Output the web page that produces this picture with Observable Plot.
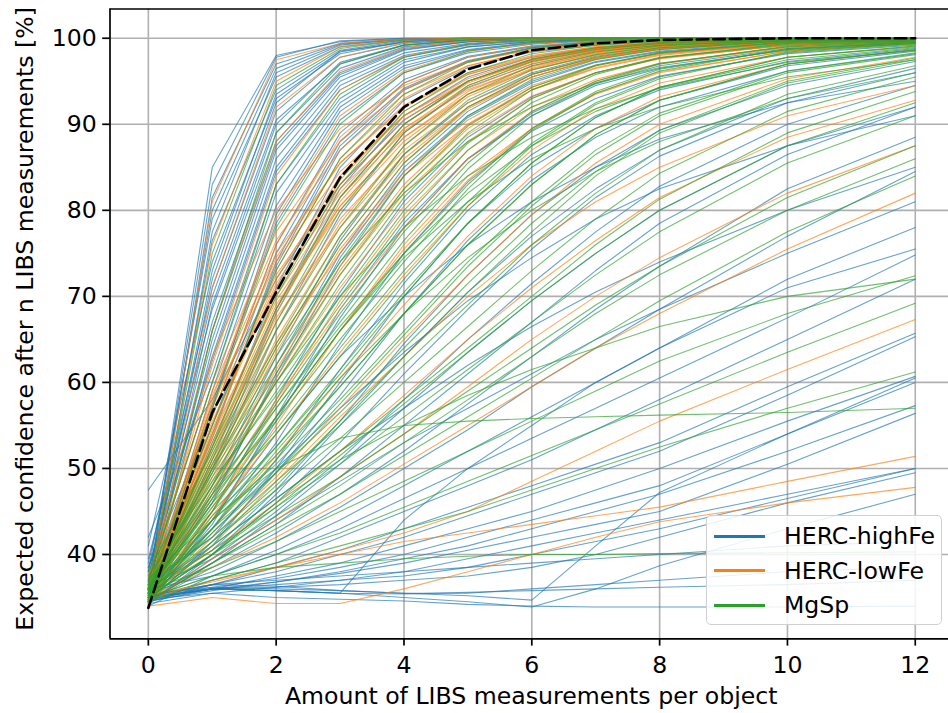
<!DOCTYPE html>
<html>
<head>
<meta charset="utf-8">
<script src="https://cdn.jsdelivr.net/npm/d3@7"></script>
<script src="https://cdn.jsdelivr.net/npm/@observablehq/plot@0.6"></script>
<style>
  html, body { margin: 0; padding: 0; background: #fff; overflow: hidden; }
  #wrap { position: relative; width: 948px; height: 713px; font-family: "DejaVu Sans", sans-serif; }
  #legend { position: absolute; left: 706px; top: 515px; width: 236px; height: 110px; box-sizing: border-box;
            border: 1px solid #d0d0d0; border-radius: 5px; background: rgba(255,255,255,0.85); }
  .row { position: absolute; left: 0; height: 30px; display: flex; align-items: center; }
  .sw { width: 51px; height: 3px; margin-left: 7px; margin-right: 19px; }
  .lab { font-size: 23.6px; color: #000; white-space: nowrap; }
</style>
</head>
<body>
<div id="wrap"></div>
<script>
// measurement counts (x positions of the curve vertices)
const xs = [0, 1, 2, 3, 4, 5, 6, 7, 8, 10, 12];
const classNames = ["HERC-highFe", "HERC-lowFe", "MgSp"];
const classColors = ["#1f77b4", "#ff7f0e", "#2ca02c"];
const xTicks = [0, 2, 4, 6, 8, 10, 12];
const yTicks = [40, 50, 60, 70, 80, 90, 100];

// HERC-highFe curves (values at xs)
const highFe = [
  [36.0, 85.0, 98.0, 99.6, 100, 100, 100, 100, 100, 100, 100],
  [35.0, 81.5, 97.0, 99.4, 99.9, 100, 100, 100, 100, 100, 100],
  [38.0, 79.0, 95.5, 99.0, 99.8, 100, 100, 100, 100, 100, 100],
  [36.5, 76.5, 94.0, 98.6, 99.7, 99.9, 100, 100, 100, 100, 100],
  [41.0, 74.0, 93.0, 98.2, 99.6, 99.9, 100, 100, 100, 100, 100],
  [35.5, 72.0, 92.5, 98.5, 99.5, 99.8, 100, 100, 100, 100, 100],
  [37.0, 70.0, 90.5, 97.0, 99.2, 99.8, 99.9, 100, 100, 100, 100],
  [39.5, 68.5, 89.0, 96.5, 99.0, 99.7, 99.9, 100, 100, 100, 100],
  [36.0, 66.0, 87.5, 95.8, 98.7, 99.6, 99.9, 100, 100, 100, 100],
  [34.5, 64.0, 86.0, 95.0, 98.3, 99.4, 99.8, 99.9, 100, 100, 100],
  [37.5, 62.5, 84.5, 94.0, 97.8, 99.2, 99.7, 99.9, 100, 100, 100],
  [42.0, 61.0, 83.0, 93.0, 97.5, 99.0, 99.6, 99.8, 99.9, 100, 100],
  [35.0, 59.0, 80.5, 92.0, 96.8, 98.7, 99.5, 99.8, 99.9, 100, 100],
  [36.5, 57.5, 78.5, 90.5, 96.0, 98.3, 99.3, 99.7, 99.9, 100, 100],
  [38.5, 56.0, 76.0, 89.0, 95.2, 97.9, 99.1, 99.6, 99.8, 100, 100],
  [35.5, 54.0, 73.5, 87.0, 94.0, 97.3, 98.8, 99.5, 99.8, 99.9, 100],
  [36.0, 52.5, 71.0, 85.0, 92.8, 96.6, 98.4, 99.2, 99.6, 99.9, 100],
  [34.8, 51.0, 68.5, 82.5, 91.0, 95.5, 97.8, 98.9, 99.5, 99.9, 100],
  [37.0, 49.5, 66.0, 79.5, 89.0, 94.3, 97.0, 98.5, 99.2, 99.8, 99.9],
  [35.2, 48.0, 63.0, 76.5, 86.5, 92.5, 96.0, 97.9, 98.9, 99.7, 99.9],
  [36.3, 46.5, 60.5, 73.5, 84.0, 90.8, 94.8, 97.2, 98.4, 99.5, 99.8],
  [34.6, 45.0, 58.0, 70.5, 81.0, 88.5, 93.2, 96.0, 97.7, 99.2, 99.7],
  [35.8, 44.0, 55.5, 67.5, 78.0, 86.0, 91.3, 94.7, 96.8, 98.8, 99.5],
  [35.0, 43.0, 53.0, 64.5, 75.0, 83.3, 89.2, 93.0, 95.6, 98.2, 99.2],
  [36.8, 42.0, 51.0, 61.5, 71.5, 80.0, 86.5, 91.0, 94.0, 97.3, 98.8],
  [34.4, 41.5, 49.5, 58.5, 68.0, 76.5, 83.5, 88.5, 92.0, 96.2, 98.2],
  [35.6, 40.5, 47.5, 55.5, 64.5, 72.5, 79.5, 85.0, 89.3, 94.5, 97.3],
  [34.2, 40.0, 46.0, 53.0, 61.0, 68.5, 75.5, 81.5, 86.3, 92.5, 96.0],
  [36.0, 39.5, 45.0, 51.0, 58.0, 65.0, 71.5, 77.5, 82.8, 90.0, 94.5],
  [35.0, 39.0, 43.5, 49.0, 55.0, 61.0, 67.0, 73.0, 78.5, 86.5, 92.0],
  [34.5, 38.5, 42.5, 47.0, 52.0, 57.5, 63.0, 68.5, 73.5, 82.5, 88.5],
  [35.5, 38.0, 41.5, 45.5, 50.0, 54.5, 59.5, 64.0, 68.5, 77.0, 84.5],
  [34.0, 37.5, 40.5, 44.0, 48.0, 52.0, 56.0, 60.0, 64.0, 71.0, 75.5],
  [36.0, 37.5, 40.0, 43.0, 46.5, 50.0, 53.5, 57.0, 60.5, 67.5, 74.8],
  [35.0, 37.0, 39.0, 42.0, 45.0, 48.0, 51.0, 54.5, 58.0, 65.0, 72.0],
  [34.5, 36.5, 38.5, 40.5, 43.0, 45.5, 48.0, 50.5, 53.0, 59.5, 65.7],
  [35.2, 36.5, 38.0, 40.0, 42.0, 44.5, 47.0, 49.5, 52.0, 58.5, 65.3],
  [34.8, 36.0, 37.5, 39.0, 41.0, 43.0, 45.0, 47.5, 50.0, 55.5, 60.7],
  [35.5, 36.2, 37.2, 38.5, 40.0, 42.0, 44.0, 46.0, 48.0, 54.0, 60.5],
  [34.6, 35.8, 36.8, 38.0, 39.5, 41.0, 43.0, 45.0, 47.0, 52.0, 57.3],
  [35.0, 36.0, 36.8, 37.8, 39.0, 40.5, 42.0, 43.5, 45.0, 50.5, 56.4],
  [34.3, 35.5, 36.2, 37.0, 38.0, 39.5, 41.0, 42.5, 44.0, 47.0, 50.0],
  [35.0, 36.0, 36.5, 37.0, 37.5, 38.5, 40.0, 41.5, 43.0, 46.5, 50.0],
  [34.5, 36.0, 36.2, 36.5, 37.0, 37.5, 38.5, 40.0, 42.0, 46.0, 49.5],
  [35.2, 36.5, 36.3, 35.8, 35.5, 35.5, 36.0, 36.5, 37.0, 38.0, 38.5],
  [34.8, 36.0, 35.8, 35.5, 35.4, 35.6, 35.8, 36.0, 36.2, 36.5, 37.0],
  [35.0, 36.2, 36.0, 35.8, 35.5, 35.2, 34.7, 41.0, 47.2, 54.0, 60.0],
  [35.5, 36.0, 35.8, 35.5, 35.0, 34.5, 33.9, 36.0, 38.7, 43.0, 47.0],
  [35.0, 36.0, 35.8, 35.5, 44.0, 50.0, 55.0, 60.0, 64.0, 72.0, 78.0],
  [35.0, 36.5, 37.0, 37.5, 38.0, 38.5, 39.0, 39.5, 40.0, 41.0, 41.5],
  [34.8, 35.5, 35.0, 34.8, 34.6, 34.2, 34.0, 33.9, 33.9, 33.9, 34.0],
  [37.0, 60.0, 82.0, 92.5, 97.2, 99.0, 99.6, 99.9, 100, 100, 100],
  [38.0, 67.0, 88.0, 96.0, 98.8, 99.6, 99.9, 100, 100, 100, 100],
  [36.0, 55.0, 75.0, 88.0, 94.8, 97.8, 99.0, 99.6, 99.8, 100, 100],
  [35.0, 47.0, 62.0, 75.0, 85.0, 91.5, 95.5, 97.6, 98.8, 99.6, 99.9],
  [47.5, 58.0, 72.0, 83.0, 90.5, 95.0, 97.5, 98.8, 99.4, 99.8, 100],
  [34.0, 44.0, 54.0, 63.0, 70.0, 76.0, 81.0, 85.0, 88.3, 92.5, 95.0],
  [35.5, 42.5, 50.0, 57.0, 63.5, 69.5, 74.5, 79.0, 82.5, 87.5, 91.0],
  [36.0, 41.0, 46.5, 52.0, 57.0, 62.0, 66.5, 70.5, 74.0, 80.0, 85.0],
  [34.5, 39.5, 44.0, 48.5, 53.0, 57.0, 61.0, 65.0, 68.5, 75.0, 81.0],
  [36.0, 83.0, 97.8, 99.7, 100, 100, 100, 100, 100, 100, 100],
  [37.0, 80.0, 96.5, 99.3, 99.9, 100, 100, 100, 100, 100, 100],
  [35.0, 77.5, 96.0, 99.2, 99.9, 100, 100, 100, 100, 100, 100],
  [36.0, 73.0, 93.5, 98.4, 99.6, 99.9, 100, 100, 100, 100, 100],
  [39.0, 71.0, 91.5, 97.8, 99.4, 99.9, 100, 100, 100, 100, 100],
  [35.5, 69.0, 90.0, 97.2, 99.2, 99.8, 100, 100, 100, 100, 100],
  [36.5, 65.0, 87.0, 95.5, 98.6, 99.6, 99.9, 100, 100, 100, 100],
  [38.5, 63.0, 85.0, 94.5, 98.0, 99.3, 99.8, 99.9, 100, 100, 100],
  [35.0, 57.0, 79.5, 91.5, 96.5, 98.6, 99.4, 99.8, 99.9, 100, 100],
  [36.5, 53.5, 74.0, 87.5, 94.2, 97.4, 98.9, 99.5, 99.8, 100, 100],
  [34.8, 50.0, 68.0, 81.5, 90.0, 95.0, 97.5, 98.8, 99.4, 99.9, 100],
  [35.8, 46.0, 61.0, 74.5, 84.5, 91.0, 95.0, 97.3, 98.5, 99.6, 99.9],
  [34.7, 43.5, 56.0, 68.5, 78.5, 86.0, 91.0, 94.5, 96.5, 98.7, 99.5],
  [35.3, 41.0, 50.0, 60.0, 70.0, 78.5, 85.0, 89.5, 92.8, 96.8, 98.5],
  [35.0, 40.0, 47.0, 55.0, 63.0, 70.5, 77.0, 82.5, 87.0, 93.0, 96.5],
  [34.6, 39.0, 44.5, 50.5, 57.0, 63.5, 69.5, 75.0, 80.0, 87.5, 92.0]
];

// HERC-lowFe curves
const lowFe = [
  [35.0, 81.0, 97.5, 99.4, 99.9, 100, 100, 100, 100, 100, 100],
  [36.0, 76.0, 95.0, 99.0, 99.8, 100, 100, 100, 100, 100, 100],
  [34.5, 71.0, 92.0, 97.8, 99.5, 99.9, 100, 100, 100, 100, 100],
  [37.0, 66.0, 88.0, 96.2, 98.9, 99.7, 99.9, 100, 100, 100, 100],
  [35.5, 62.0, 84.0, 94.0, 97.9, 99.3, 99.8, 99.9, 100, 100, 100],
  [34.0, 58.0, 79.0, 91.0, 96.2, 98.5, 99.4, 99.8, 99.9, 100, 100],
  [36.5, 56.0, 76.0, 88.5, 94.8, 97.8, 99.1, 99.6, 99.8, 100, 100],
  [35.0, 54.0, 73.0, 86.0, 93.0, 96.8, 98.5, 99.3, 99.7, 99.9, 100],
  [34.8, 52.5, 70.5, 83.5, 91.5, 95.8, 97.9, 99.0, 99.5, 99.9, 100],
  [35.8, 51.5, 68.0, 81.0, 89.5, 94.5, 97.2, 98.6, 99.3, 99.8, 100],
  [34.3, 50.5, 66.0, 78.5, 87.5, 93.2, 96.4, 98.1, 99.0, 99.7, 99.9],
  [36.2, 49.5, 64.0, 76.0, 85.5, 91.8, 95.5, 97.6, 98.7, 99.6, 99.9],
  [35.0, 48.5, 62.0, 73.5, 83.0, 90.0, 94.3, 96.8, 98.2, 99.4, 99.8],
  [34.6, 47.5, 60.0, 71.0, 80.5, 88.0, 93.0, 96.0, 97.7, 99.2, 99.7],
  [35.4, 46.5, 58.0, 68.5, 78.0, 86.0, 91.5, 95.0, 97.0, 98.9, 99.6],
  [34.2, 45.5, 56.0, 66.0, 75.5, 83.5, 89.5, 93.6, 96.1, 98.5, 99.4],
  [36.0, 44.5, 54.0, 63.5, 72.5, 80.5, 87.0, 91.8, 94.8, 97.8, 99.1],
  [35.2, 43.0, 51.5, 60.5, 69.0, 77.0, 84.0, 89.5, 93.2, 97.0, 98.7],
  [34.8, 42.0, 49.0, 57.0, 65.0, 72.5, 79.5, 85.5, 90.0, 95.3, 97.8],
  [35.6, 40.5, 46.0, 52.0, 58.5, 65.0, 71.0, 76.5, 81.5, 88.5, 92.8],
  [34.4, 39.5, 44.0, 49.0, 54.0, 59.5, 65.0, 70.0, 74.5, 82.0, 87.5],
  [35.0, 38.5, 42.0, 46.0, 50.5, 55.0, 59.5, 64.0, 68.0, 75.5, 82.0],
  [34.8, 37.0, 38.5, 40.5, 42.5, 45.0, 48.5, 52.0, 55.5, 61.5, 67.3],
  [35.2, 36.8, 38.5, 40.0, 41.5, 42.5, 43.5, 44.5, 45.5, 48.5, 51.4],
  [34.0, 35.0, 34.3, 34.3, 36.0, 38.0, 40.0, 42.0, 43.8, 46.0, 47.8],
  [37.5, 60.0, 77.5, 88.0, 94.0, 97.2, 98.7, 99.4, 99.8, 100, 100],
  [36.0, 53.0, 69.0, 80.0, 88.0, 93.5, 96.5, 98.3, 99.1, 99.8, 100],
  [35.0, 50.0, 65.0, 77.0, 86.0, 92.0, 95.8, 97.8, 98.9, 99.7, 99.9],
  [34.5, 55.0, 72.0, 84.0, 91.0, 95.3, 97.6, 98.8, 99.4, 99.9, 100],
  [35.5, 57.0, 74.5, 85.5, 92.0, 95.8, 97.8, 98.9, 99.4, 99.8, 100],
  [35.0, 59.0, 76.5, 87.0, 93.5, 96.8, 98.5, 99.3, 99.7, 100, 100],
  [36.0, 57.5, 74.0, 84.5, 91.0, 95.0, 97.3, 98.6, 99.3, 99.8, 100],
  [34.5, 54.5, 71.5, 82.5, 89.5, 94.0, 96.7, 98.2, 99.0, 99.7, 99.9],
  [35.5, 52.0, 68.5, 80.5, 88.5, 93.5, 96.3, 98.0, 98.9, 99.7, 99.9],
  [34.8, 51.0, 67.0, 79.0, 87.0, 92.5, 95.8, 97.7, 98.7, 99.6, 99.9],
  [36.5, 49.0, 63.5, 75.5, 84.5, 90.5, 94.5, 96.9, 98.2, 99.4, 99.8],
  [35.2, 47.0, 60.5, 72.5, 82.0, 88.8, 93.3, 96.0, 97.6, 99.2, 99.7],
  [34.4, 45.0, 57.5, 69.5, 79.5, 87.0, 92.0, 95.2, 97.1, 99.0, 99.6],
  [35.6, 63.0, 80.0, 89.5, 94.5, 97.3, 98.7, 99.4, 99.8, 100, 100],
  [35.0, 44.0, 55.0, 66.0, 76.0, 84.0, 89.5, 93.5, 96.0, 98.5, 99.4],
  [34.6, 41.0, 48.5, 56.0, 63.0, 70.0, 76.0, 81.0, 85.0, 91.0, 94.5],
  [35.0, 55.5, 71.0, 82.0, 90.0, 94.8, 97.4, 98.7, 99.4, 99.9, 100],
  [36.0, 54.0, 69.5, 80.5, 88.5, 93.8, 96.8, 98.4, 99.2, 99.8, 100],
  [34.5, 56.5, 72.5, 83.0, 90.5, 95.0, 97.5, 98.8, 99.4, 99.9, 100],
  [35.5, 52.5, 67.5, 78.0, 86.5, 92.0, 95.5, 97.6, 98.8, 99.7, 99.9],
  [34.8, 53.5, 70.0, 81.5, 89.2, 94.2, 97.0, 98.5, 99.3, 99.8, 100],
  [36.2, 50.5, 64.5, 75.0, 84.0, 90.0, 94.0, 96.6, 98.1, 99.5, 99.9],
  [35.0, 48.0, 61.5, 73.0, 82.5, 89.5, 94.0, 96.5, 98.0, 99.4, 99.8],
  [34.6, 58.5, 75.0, 85.5, 92.2, 96.0, 98.0, 99.0, 99.5, 99.9, 100]
];

// MgSp curves
const mgsp = [
  [36.0, 75.0, 94.5, 98.8, 99.8, 100, 100, 100, 100, 100, 100],
  [35.0, 66.0, 89.0, 97.0, 99.2, 99.8, 100, 100, 100, 100, 100],
  [37.0, 60.0, 83.0, 93.5, 97.8, 99.3, 99.8, 99.9, 100, 100, 100],
  [35.5, 57.0, 78.0, 90.0, 96.0, 98.5, 99.5, 99.8, 100, 100, 100],
  [36.5, 55.0, 73.0, 86.0, 93.5, 97.2, 98.9, 99.6, 99.8, 100, 100],
  [35.0, 53.0, 70.0, 83.0, 91.5, 96.0, 98.2, 99.2, 99.7, 99.9, 100],
  [38.0, 52.0, 67.0, 80.0, 89.0, 94.5, 97.3, 98.7, 99.4, 99.9, 100],
  [35.8, 51.0, 64.5, 77.0, 86.5, 92.8, 96.3, 98.1, 99.1, 99.8, 100],
  [36.2, 50.0, 62.0, 74.0, 84.0, 91.0, 95.2, 97.5, 98.7, 99.7, 99.9],
  [34.8, 49.0, 60.0, 71.5, 81.5, 89.0, 94.0, 96.8, 98.3, 99.6, 99.9],
  [37.5, 48.5, 58.5, 69.0, 79.0, 87.0, 92.5, 95.8, 97.7, 99.4, 99.8],
  [35.3, 47.5, 57.0, 67.0, 76.5, 84.8, 91.0, 94.8, 97.0, 99.1, 99.7],
  [36.8, 47.0, 55.5, 65.0, 74.0, 82.5, 89.3, 93.6, 96.2, 98.8, 99.6],
  [35.0, 46.0, 54.0, 63.0, 72.0, 80.5, 87.5, 92.3, 95.3, 98.4, 99.4],
  [36.0, 45.0, 52.5, 61.0, 70.0, 78.5, 85.5, 90.8, 94.3, 97.8, 99.1],
  [34.5, 44.5, 51.5, 59.5, 68.0, 76.0, 83.0, 88.8, 92.8, 97.0, 98.7],
  [37.2, 44.0, 50.5, 58.0, 66.0, 74.0, 81.0, 87.0, 91.3, 96.2, 98.3],
  [35.6, 43.0, 49.5, 56.5, 64.0, 71.5, 78.5, 84.5, 89.3, 95.0, 97.7],
  [36.4, 42.0, 48.5, 55.0, 62.0, 69.0, 76.0, 82.0, 87.0, 93.5, 96.8],
  [35.2, 41.5, 47.5, 53.5, 60.0, 66.5, 73.0, 79.0, 84.3, 91.5, 95.5],
  [34.7, 41.0, 46.5, 52.0, 58.0, 64.0, 70.0, 76.0, 81.3, 89.0, 93.8],
  [36.0, 40.5, 45.5, 50.5, 56.0, 61.5, 67.0, 72.5, 77.5, 85.5, 91.0],
  [35.0, 40.0, 44.5, 49.0, 54.0, 59.0, 64.0, 69.0, 73.5, 81.5, 87.5],
  [34.5, 39.0, 43.0, 47.0, 51.5, 56.0, 60.5, 65.0, 69.5, 77.5, 84.0],
  [35.8, 38.5, 41.5, 45.0, 48.5, 52.0, 55.5, 59.0, 62.5, 68.0, 72.4],
  [35.0, 37.5, 40.0, 42.5, 45.5, 48.5, 51.5, 54.5, 57.5, 63.5, 69.2],
  [34.6, 37.0, 39.0, 41.0, 43.0, 45.0, 47.5, 50.0, 52.5, 57.0, 61.2],
  [35.0, 44.0, 50.0, 53.5, 55.0, 55.5, 55.8, 56.0, 56.2, 56.5, 57.0],
  [35.0, 37.5, 38.5, 39.0, 39.5, 39.8, 40.0, 40.0, 40.1, 40.2, 40.3],
  [35.5, 40.0, 46.0, 51.0, 55.0, 58.5, 61.5, 64.0, 66.5, 70.0, 72.0],
  [35.0, 45.0, 56.0, 66.0, 74.5, 81.0, 86.0, 89.5, 92.0, 95.5, 97.5],
  [36.0, 48.0, 60.0, 70.0, 78.0, 84.0, 88.5, 91.8, 94.2, 97.2, 98.6],
  [35.5, 50.0, 63.0, 74.0, 82.0, 88.0, 92.0, 94.8, 96.6, 98.6, 99.4],
  [34.5, 43.0, 52.0, 60.5, 68.0, 74.5, 80.0, 84.5, 88.0, 93.0, 96.0],
  [36.0, 46.0, 57.0, 66.5, 75.0, 82.0, 87.5, 91.5, 94.3, 97.5, 98.9],
  [35.5, 52.5, 68.5, 81.5, 90.0, 95.0, 97.6, 98.9, 99.5, 99.9, 100],
  [36.0, 50.5, 64.0, 76.0, 85.5, 92.0, 95.8, 97.8, 98.9, 99.7, 99.9],
  [35.0, 49.5, 61.0, 72.5, 82.5, 89.8, 94.3, 96.9, 98.3, 99.5, 99.8],
  [36.5, 48.0, 59.0, 70.0, 80.0, 87.8, 93.0, 96.0, 97.8, 99.3, 99.7],
  [35.2, 47.0, 57.5, 68.0, 77.5, 85.5, 91.5, 95.0, 97.1, 99.0, 99.6],
  [34.8, 46.5, 56.0, 66.0, 75.0, 83.0, 89.5, 93.8, 96.4, 98.7, 99.5],
  [36.2, 45.5, 54.5, 64.0, 73.0, 81.0, 87.8, 92.5, 95.5, 98.3, 99.3],
  [35.4, 44.0, 52.5, 61.5, 70.5, 78.5, 85.5, 90.8, 94.3, 97.8, 99.0],
  [36.0, 43.0, 51.0, 59.5, 68.0, 76.0, 83.0, 88.8, 92.8, 97.0, 98.6],
  [34.6, 42.5, 49.5, 57.5, 65.5, 73.5, 80.5, 86.5, 91.0, 96.0, 98.1],
  [35.8, 41.5, 48.0, 55.5, 63.0, 70.5, 77.5, 84.0, 89.0, 94.8, 97.5],
  [35.0, 40.0, 45.5, 51.5, 57.5, 63.5, 69.5, 75.0, 80.0, 87.5, 92.5],
  [36.0, 51.5, 66.0, 78.0, 87.5, 93.5, 96.8, 98.4, 99.2, 99.8, 100],
  [34.5, 39.0, 43.5, 48.0, 53.0, 58.0, 63.0, 68.0, 72.5, 80.0, 86.0]
];

// mean curve (black dashed)
const meanCurve = [33.8, 56.5, 70.5, 83.8, 92.0, 96.4, 98.6, 99.4, 99.8, 100, 100];

// ---- build tidy table ----
const rows = [];
[highFe, lowFe, mgsp].forEach((set, ci) => {
  set.forEach((vals, si) => {
    vals.forEach((v, k) => rows.push({id: ci + "-" + si, cls: classNames[ci], x: xs[k], y: v}));
  });
});
const meanRows = meanCurve.map((v, k) => ({x: xs[k], y: v}));

const X0 = -0.6, X1 = 12.52, Y0 = 30.2, Y1 = 103.4;
const FS = 23.6;

const chart = Plot.plot({
  width: 948,
  height: 713,
  marginLeft: 109.5,
  marginRight: 0,
  marginTop: 8.5,
  marginBottom: 74.7,
  style: {fontFamily: "DejaVu Sans, sans-serif", color: "#000", background: "#fff"},
  x: {domain: [X0, X1]},
  y: {domain: [Y0, Y1]},
  color: {domain: classNames, range: classColors},
  marks: [
    Plot.gridX(xTicks, {stroke: "#b0b0b0", strokeOpacity: 1, strokeWidth: 1.6}),
    Plot.gridY(yTicks, {stroke: "#b0b0b0", strokeOpacity: 1, strokeWidth: 1.6}),
    Plot.line(rows, {x: "x", y: "y", z: "id", stroke: "cls", strokeWidth: 1.1, strokeOpacity: 0.68}),
    Plot.line(meanRows, {x: "x", y: "y", stroke: "#000", strokeWidth: 2.6, strokeDasharray: "11.5,5"}),
    Plot.ruleX([X0], {stroke: "#000", strokeWidth: 1.7}),
    Plot.ruleY([Y0, Y1], {stroke: "#000", strokeWidth: 1.7}),
    Plot.axisX(xTicks, {tickSize: 7.3, tickPadding: 10, fontSize: FS, label: null, strokeWidth: 1.7}),
    Plot.axisY(yTicks, {tickSize: 7.3, tickPadding: 6, fontSize: FS, label: null, strokeWidth: 1.7}),
    Plot.text(["Amount of LIBS measurements per object"], {frameAnchor: "bottom", dx: 2, dy: 48, lineAnchor: "top", textAnchor: "middle", fontSize: FS, fill: "#000"}),
    Plot.text(["Expected confidence after n LIBS measurements [%]"], {frameAnchor: "left", dx: -85, dy: -5, rotate: -90, textAnchor: "middle", lineAnchor: "middle", fontSize: FS, fill: "#000"})
  ]
});

const wrap = document.getElementById("wrap");
wrap.appendChild(chart);

// legend (inside the axes, lower right)
const legend = document.createElement("div");
legend.id = "legend";
classNames.forEach((name, i) => {
  const row = document.createElement("div");
  row.className = "row";
  row.style.top = (5 + i * 34.5) + "px";
  const sw = document.createElement("div");
  sw.className = "sw";
  sw.style.background = classColors[i];
  const lab = document.createElement("span");
  lab.className = "lab";
  lab.textContent = name;
  row.appendChild(sw);
  row.appendChild(lab);
  legend.appendChild(row);
});
wrap.appendChild(legend);
</script>
</body>
</html>
